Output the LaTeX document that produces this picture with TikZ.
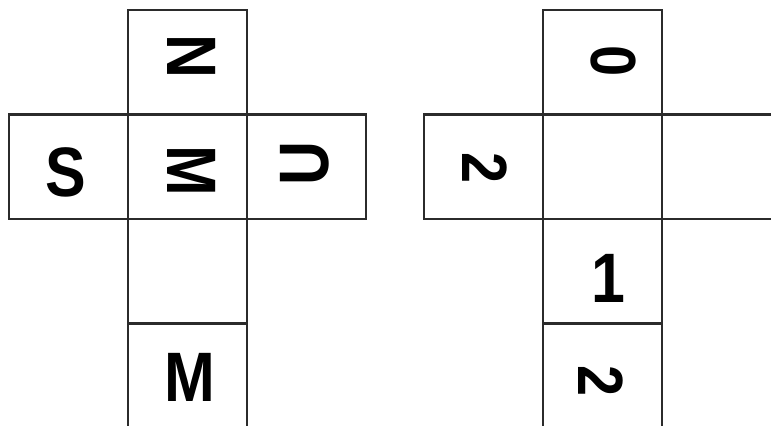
\documentclass[tikz,border=0pt]{standalone}
\usepackage{fontspec}
\setmainfont{Liberation Sans}
\usepackage{tikz}
\usetikzlibrary{positioning,calc}
\definecolor{netgray}{HTML}{2B2B2B}

\begin{document}
\begin{tikzpicture}[
x=0.5pt,y=-0.5pt,
node distance=0pt and 0pt,
cell/.style={draw=netgray,line width=1.4pt,inner sep=0pt,outer sep=0pt,
minimum width=59.5pt,minimum height=52.25pt},
glyph/.style={xscale=0.87,inner sep=0pt,font=\fontsize{35}{35}\selectfont\bfseries},
digit/.style={glyph,font=\fontsize{32}{32}\selectfont\bfseries}
]
\clip (0,0) rectangle (771,425);
\fill[white] (0,0) rectangle (771,425);

% left net
\node[cell] (lt) at (187.5,62.25) {};
\node[cell,below=of lt]  (lm)  {};
\node[cell,left=of lm]   (ll)  {};
\node[cell,right=of lm]  (lr)  {};
\node[cell,below=of lm]  (lb)  {};
\node[cell,below=of lb]  (lbb) {};

\node[rotate=-90,glyph] (gN)  at ($(lt)+(4.5,-6)$)    {N};
\node[rotate=-90,glyph] (gMa) at ($(lm)+(4.5,4.5)$)   {M};
\node[glyph]            (gS)  at ($(ll)+(-2.5,5.5)$)  {S};
\node[rotate=90,glyph]  (gU)  at ($(lr)+(-1.5,-3.5)$) {U};
\node[glyph]            (gMb) at ($(lbb)+(2.5,1.5)$)  {M};

% right net
\node[cell] (rt) at (602.5,62.25) {};
\node[cell,below=of rt]  (rm)  {};
\node[cell,left=of rm]   (rl)  {};
\node[cell,right=of rm]  (rr)  {};
\node[cell,below=of rm]  (rb)  {};
\node[cell,below=of rb]  (rbb) {};

\node[rotate=90,digit]  (g0)  at ($(rt)+(10.5,-1)$)   {0};
\node[rotate=-90,digit] (g2a) at ($(rl)+(1.5,1.5)$)   {2};
\node[glyph]            (g1)  at ($(rb)+(6,7)$)       {1};
\node[rotate=-90,digit] (g2b) at ($(rbb)+(-1.5,5.5)$) {2};
\end{tikzpicture}
\end{document}
